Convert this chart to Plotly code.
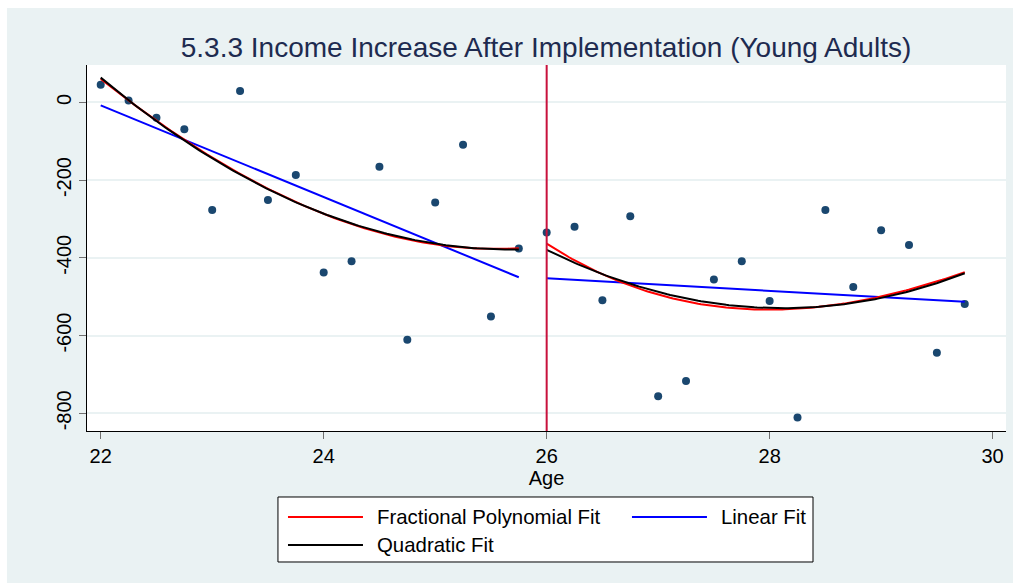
import numpy as np
import plotly.graph_objects as go

# Age (years) and income increase for each age bin
ages = [22.0, 22.25, 22.5, 22.75, 23.0, 23.25, 23.5, 23.75,
        24.0, 24.25, 24.5, 24.75, 25.0, 25.25, 25.5, 25.75,
        26.0, 26.25, 26.5, 26.75, 27.0, 27.25, 27.5, 27.75,
        28.0, 28.25, 28.5, 28.75, 29.0, 29.25, 29.5, 29.75]
income_increase = [45, 5, -40, -69, -277, 29, -251, -187,
                   -438, -409, -166, -611, -258, -109, -551, -376,
                   -335, -320, -509, -293, -756, -717, -456, -409,
                   -511, -811, -277, -475, -329, -367, -644, -519]

cutoff_age = 26
x_ticks = [22, 24, 26, 28, 30]
y_ticks = [0, -200, -400, -600, -800]
y_tick_labels = ["0", "-200", "-400", "-600", "-800"]

NAVY = "#1A476F"
BG = "#EAF2F3"
FONT = "Liberation Sans, Arial, sans-serif"

ages_arr = np.array(ages, dtype=float)
inc_arr = np.array(income_increase, dtype=float)


def fp_term(x, p):
    return np.log(x) if p == 0 else x ** p


def fp2_fit(x, y, grid):
    """Best degree-2 fractional polynomial (standard power set)."""
    powers = [-2, -1, -0.5, 0, 0.5, 1, 2, 3]
    xs, gs = x / 10.0, grid / 10.0
    best = None
    for i, p1 in enumerate(powers):
        for p2 in powers[i:]:
            def design(v):
                a = fp_term(v, p1)
                b = a * np.log(v) if p1 == p2 else fp_term(v, p2)
                return np.column_stack([np.ones_like(v), a, b])
            coef, *_ = np.linalg.lstsq(design(xs), y, rcond=None)
            rss = np.sum((design(xs) @ coef - y) ** 2)
            if best is None or rss < best[0]:
                best = (rss, design(gs) @ coef)
    return best[1]


fig = go.Figure()

fig.add_trace(go.Scatter(x=ages, y=income_increase, mode="markers",
                         marker=dict(color=NAVY, size=8), showlegend=False))

segments = [ages_arr < cutoff_age, ages_arr >= cutoff_age]
for mask in segments:
    x, y = ages_arr[mask], inc_arr[mask]
    grid = np.linspace(x.min(), x.max(), 150)
    fig.add_trace(go.Scatter(x=grid, y=np.polyval(np.polyfit(x, y, 1), grid),
                             mode="lines", line=dict(color="#0000FF", width=2),
                             showlegend=False))
    fig.add_trace(go.Scatter(x=grid, y=fp2_fit(x, y, grid), mode="lines",
                             line=dict(color="#FF0000", width=2), showlegend=False))
    fig.add_trace(go.Scatter(x=grid, y=np.polyval(np.polyfit(x, y, 2), grid),
                             mode="lines", line=dict(color="#000000", width=2),
                             showlegend=False))

shapes = [
    # outer panel and white plot region
    dict(type="rect", xref="paper", yref="paper", x0=-0.0871, x1=1.0076,
         y0=-0.4153, y1=1.1557, fillcolor=BG, line_width=0, layer="below"),
    dict(type="rect", xref="paper", yref="paper", x0=0, x1=1, y0=0, y1=1,
         fillcolor="white", line_width=0, layer="below"),
    # cutoff line
    dict(type="line", xref="x", yref="paper", x0=cutoff_age, x1=cutoff_age,
         y0=0, y1=1, line=dict(color="#C8113C", width=2)),
    # legend box
    dict(type="rect", xref="paper", yref="paper", x0=0.2078, x1=0.790,
         y0=-0.3579, y1=-0.1803, fillcolor="white",
         line=dict(color="#000000", width=1)),
]

legend_items = [
    ("Fractional Polynomial Fit", "#FF0000", 0.2187, -0.235),
    ("Linear Fit", "#0000FF", 0.593, -0.235),
    ("Quadratic Fit", "#000000", 0.2187, -0.3115),
]
annotations = []
for label, color, lx, ly in legend_items:
    shapes.append(dict(type="line", xref="paper", yref="paper", x0=lx,
                       x1=lx + 0.0816, y0=ly, y1=ly,
                       line=dict(color=color, width=2)))
    annotations.append(dict(text=label, xref="paper", yref="paper",
                            x=lx + 0.0947, y=ly, xanchor="left", yanchor="middle",
                            showarrow=False, font=dict(size=20.4, color="#000000")))

fig.update_layout(
    width=1014, height=583,
    margin=dict(l=87, r=8, t=65, b=152),
    paper_bgcolor="white", plot_bgcolor="white",
    font=dict(family=FONT, color="#000000"),
    title=dict(text="5.3.3 Income Increase After Implementation (Young Adults)",
               x=0.5385, xanchor="center", y=0.919, yanchor="middle",
               font=dict(size=28, color="#1E2B50")),
    shapes=shapes, annotations=annotations,
    xaxis=dict(range=[21.877, 30.12], tickvals=x_ticks, ticks="outside",
               ticklen=7, tickcolor="#707070", tickfont=dict(size=20),
               showgrid=False, zeroline=False, showline=True,
               linecolor="#000000", linewidth=1,
               title=dict(text="Age", font=dict(size=20), standoff=0)),
    yaxis=dict(range=[-845.5, 96], tickvals=y_ticks, ticktext=y_tick_labels,
               ticks="outside", ticklen=7, tickcolor="#707070",
               tickfont=dict(size=20), tickangle=-90, showgrid=True,
               gridcolor=BG, gridwidth=2, zeroline=False, showline=True,
               linecolor="#000000", linewidth=1),
)

fig.write_html("out.html")
